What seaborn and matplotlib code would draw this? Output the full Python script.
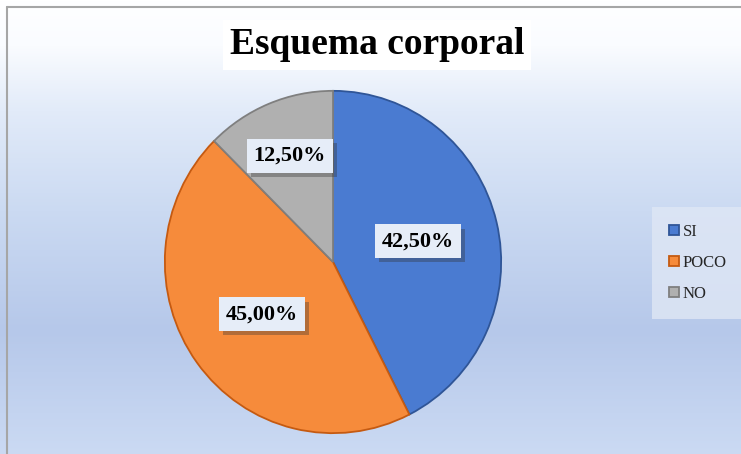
import numpy as np
import matplotlib.pyplot as plt
import matplotlib.patheffects as pe
import seaborn as sns

# Datos del gráfico
categorias = ["SI", "POCO", "NO"]
porcentajes = [42.5, 45.0, 12.5]
etiquetas = ["42,50%", "45,00%", "12,50%"]
titulo = "Esquema corporal"

sns.set_theme(style="white")
plt.rcParams['font.family'] = ['Liberation Serif', 'DejaVu Serif']

colores = ["#4a7bd1", "#f68b3b", "#b0b0b0"]
bordes = ["#2f5597", "#c55a11", "#7f7f7f"]
distancias = [0.52, 0.52, 0.67]

W, H = 741, 454
fig = plt.figure(figsize=(W / 100, H / 100), dpi=100)

# Fondo con degradado vertical
bg = fig.add_axes([0, 0, 1, 1])
bg.set_axis_off()
ys = np.arange(H)
stops_y = [0, 45, 110, 210, 330, 454]
stops_c = np.array([
    [255, 255, 255],
    [250, 252, 255],
    [226, 235, 249],
    [203, 218, 242],
    [182, 200, 234],
    [203, 218, 243],
]) / 255.0
grad = np.stack([np.interp(ys, stops_y, stops_c[:, k]) for k in range(3)], axis=1)
grad = np.repeat(grad[:, None, :], W, axis=1)
bg.imshow(grad, extent=(0, W, H, 0), aspect='auto')
bg.set_xlim(0, W)
bg.set_ylim(H, 0)
bg.plot([7, 7], [7, H], color="#a6a6a6", lw=1.5)
bg.plot([7, W], [7, 7], color="#a6a6a6", lw=1.5)

# Título
fig.text(377 / W, 1 - 45 / H, titulo, ha='center', va='center',
         fontsize=27, fontweight='bold', color='black',
         bbox=dict(facecolor='white', edgecolor='none', pad=5))

# Gráfico circular
cx, cy, rx, ry = 333, 262, 169, 172
ax = fig.add_axes([(cx - rx) / W, (H - cy - ry) / H, 2 * rx / W, 2 * ry / H])
wedges, _ = ax.pie(porcentajes, colors=colores, startangle=90,
                   counterclock=False,
                   wedgeprops=dict(linewidth=1.3))
for w, b in zip(wedges, bordes):
    w.set_edgecolor(b)
ax.set_aspect('auto')
ax.set_xlim(-1.005, 1.005)
ax.set_ylim(-1.005, 1.005)
ax.set_axis_off()

for w, txt, d in zip(wedges, etiquetas, distancias):
    ang = np.deg2rad((w.theta1 + w.theta2) / 2)
    t = ax.text(d * np.cos(ang), d * np.sin(ang), txt, ha='center', va='center',
                fontsize=16, fontweight='bold', color='black',
                bbox=dict(facecolor='#e6edf8', edgecolor='none', pad=5))
    t.get_bbox_patch().set_path_effects(
        [pe.SimplePatchShadow(offset=(3, -3), shadow_rgbFace='#333333', alpha=0.35),
         pe.Normal()])

# Leyenda
leg = ax.legend(wedges, categorias, loc='center left',
                bbox_to_anchor=(652 / W, 1 - 263 / H),
                bbox_transform=fig.transFigure, borderaxespad=0,
                fontsize=12, frameon=True, fancybox=False,
                handlelength=0.6, handleheight=0.6, handletextpad=0.25,
                labelspacing=0.9, borderpad=1.0)
leg.get_frame().set_facecolor('#dfe7f5')
leg.get_frame().set_edgecolor('none')
leg.get_frame().set_alpha(0.8)

fig.savefig("out.png", dpi=100)
